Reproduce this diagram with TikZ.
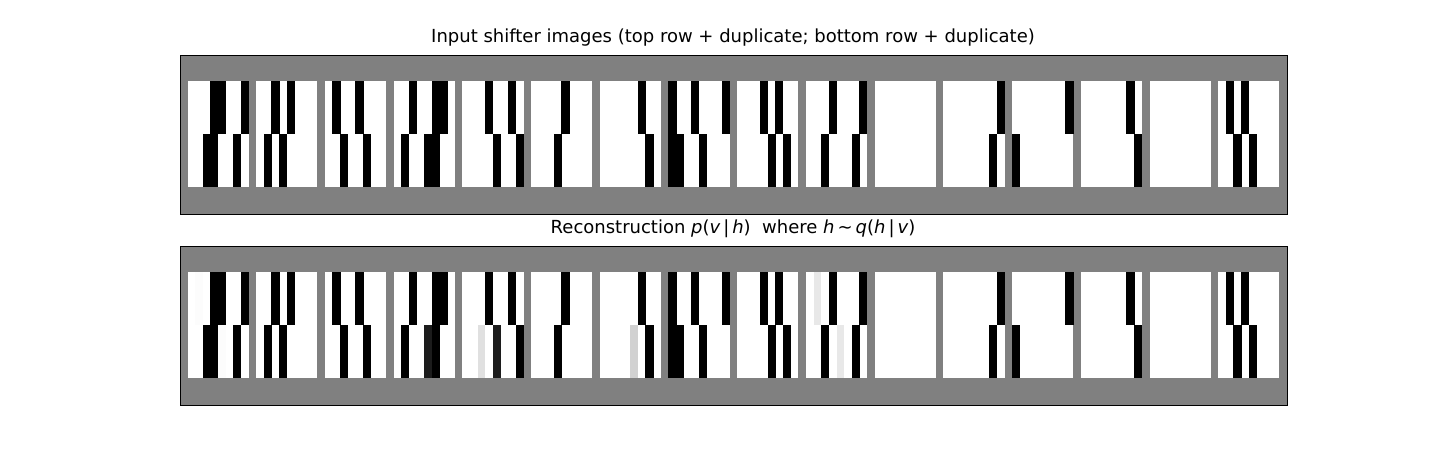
\documentclass[tikz,border=0pt]{standalone}
\usepackage{fontspec}
\setmainfont{DejaVu Sans}
\begin{document}
\begin{tikzpicture}[x=1pt,y=-1pt,
  panel/.style={fill=black!50,draw=black,line width=1pt},
  ttl/.style={font=\fontsize{18}{21}\selectfont,anchor=center,inner sep=0pt}]
\useasboundingbox (0,0) rectangle (1430,455);
\def\u{7.6345}
\def\topcells{0/3/0,0/4/0,0/7/0,0/2/1,0/3/1,0/6/1,
1/2/0,1/4/0,1/1/1,1/3/1,
2/1/0,2/4/0,2/2/1,2/5/1,
3/2/0,3/5/0,3/6/0,3/1/1,3/4/1,3/5/1,
4/3/0,4/6/0,4/4/1,4/7/1,
5/4/0,5/3/1,6/5/0,6/6/1,
7/0/0,7/3/0,7/7/0,7/0/1,7/1/1,7/4/1,
8/3/0,8/5/0,8/4/1,8/6/1,
9/3/0,9/7/0,9/2/1,9/6/1,
11/7/0,11/6/1,12/7/0,12/0/1,13/6/0,13/7/1,
15/1/0,15/3/0,15/2/1,15/4/1}
% panels
\foreach \py/\name in {55/A,246/B}{
  \node[panel,minimum width=1107pt,minimum height=159pt,inner sep=0pt,outer sep=0pt,anchor=north west] (\name) at (180,\py) {};
  \foreach \k in {0,...,15}{
    \fill[white] ({180+\u*(1+9*\k)},{\py+26}) rectangle ++({8*\u},106);
  }
  \foreach \k/\c/\h in \topcells{
    \fill[black] ({180+\u*(1+9*\k+\c)-0.3},{\py+26+\h*53}) rectangle ++(\u+0.6,53);
  }
}
% reconstruction differences
\def\py{246}
\foreach \k/\c/\h/\p in {3/4/1/89,4/2/1/12,4/4/1/89,6/4/1/18,9/1/0/9,9/4/1/9,0/1/0/1,0/4/1/1}{
  \fill[black!\p!white] ({180+\u*(1+9*\k+\c)},{\py+26+\h*53}) rectangle ++(\u,53);
}
\draw[line width=1pt] (A.north west) rectangle (A.south east);
\draw[line width=1pt] (B.north west) rectangle (B.south east);
\node[ttl] (t1) at (733,38) {Input shifter images (top row + duplicate; bottom row + duplicate)};
\node[ttl] (t2) at (733,229) {Reconstruction {\itshape p}({\itshape v}\,|\,{\itshape h})\ \ where {\itshape h}\,∼\,{\itshape q}({\itshape h}\,|\,{\itshape v})};
\end{tikzpicture}
\end{document}
